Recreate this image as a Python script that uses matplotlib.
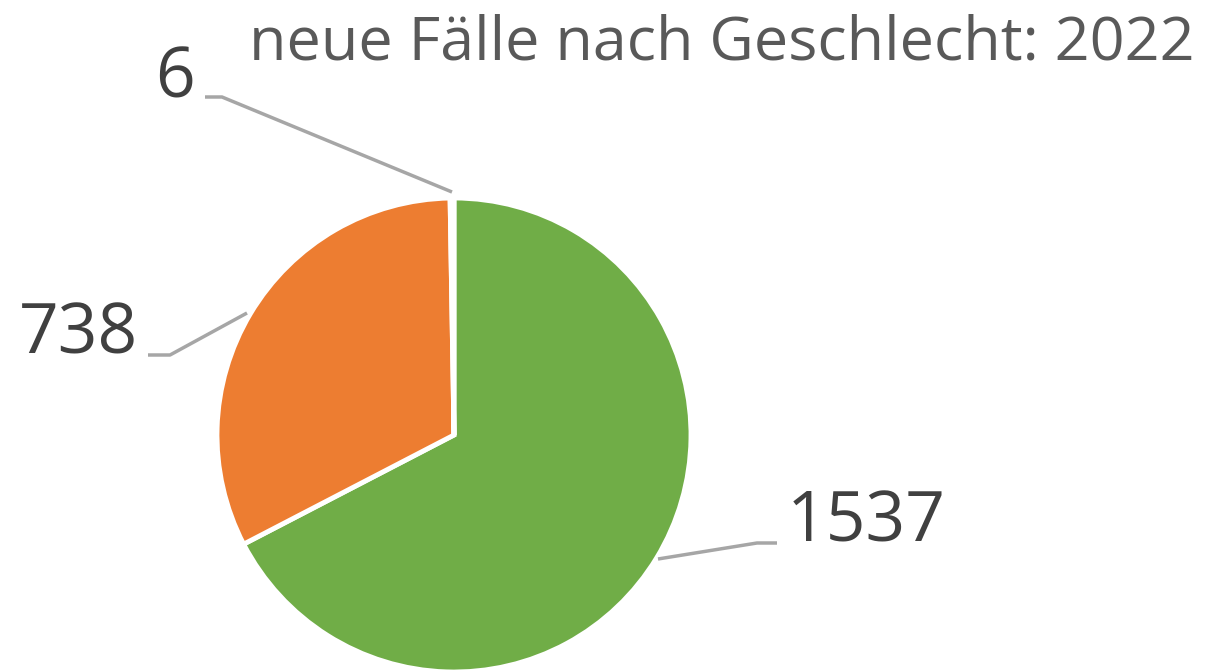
import matplotlib.pyplot as plt

# data
labels = ["1537", "738", "6"]
values = [1537, 738, 6]
colors = ["#70AD47", "#ED7D31", "#F2F2F2"]
title = "neue Fälle nach Geschlecht: 2022"

W, H = 1209, 672
fig = plt.figure(figsize=(W / 100, H / 100), dpi=100)
ax = fig.add_axes([0, 0, 1, 1])

# pie in pixel space (y measured from bottom)
cx, cy, r = 454, H - 435, 237
ax.pie(values, colors=colors, startangle=90, counterclock=False,
       center=(cx, cy), radius=r, frame=True,
       wedgeprops=dict(edgecolor="white", linewidth=3.5))
ax.set_xlim(0, W)
ax.set_ylim(0, H)
ax.set_aspect("equal")
ax.axis("off")

font = "Open Sans"
txt_color = "#404040"
line_color = "#A6A6A6"

# leader lines and labels (positions)
leaders = {
    "6": ([205, 222, 452], [97, 97, 192], (175, 80)),
    "738": ([148, 170, 247], [355, 355, 313], (78, 335)),
    "1537": ([777, 757, 658], [543, 543, 559], (866, 523)),
}
for lab in labels:
    xs, ys, (tx, ty) = leaders[lab]
    ax.plot(xs, [H - y for y in ys], color=line_color, lw=2.5,
            solid_capstyle="butt", zorder=1)
    ax.text(tx, H - ty, lab, fontsize=50, family=font, color=txt_color,
            ha="center", va="center")

ax.text(1195, H - 59, title, fontsize=44, family=font, color="#595959",
        ha="right", va="baseline")

fig.savefig("out.png", dpi=100)
